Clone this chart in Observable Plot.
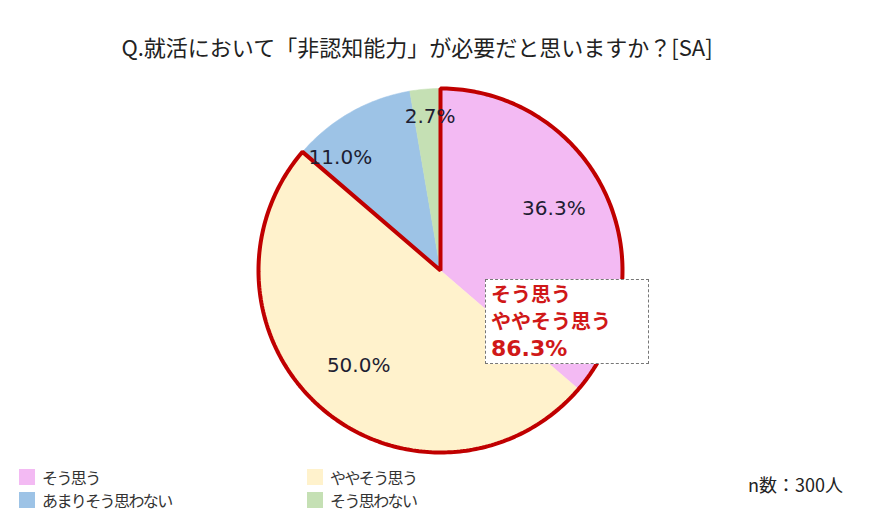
<!DOCTYPE html>
<html><head><meta charset="utf-8">
<script src="https://cdn.jsdelivr.net/npm/d3@7"></script>
<script src="https://cdn.jsdelivr.net/npm/@observablehq/plot@0.6"></script>
<style>
body{margin:0;width:870px;height:531px;background:#fff;position:relative;overflow:hidden;font-family:"Noto Sans CJK JP",sans-serif}
#chart{position:absolute;left:0;top:0}
#title{position:absolute;left:0;width:834px;top:30px;text-align:center;font-size:22px;color:#222;white-space:nowrap}
#callout{position:absolute;left:485px;top:279px;width:157px;height:83px;border:1px dashed #777;background:#fff;color:#D01818;font-weight:bold;font-size:20px;line-height:27px;padding-left:5px;box-sizing:content-box}
#callout .big{font-family:"DejaVu Sans",sans-serif;font-size:22px;line-height:29px}
.leg{position:absolute;font-size:16px;letter-spacing:-1.6px;color:#333;display:flex;align-items:center;white-space:nowrap;height:17px}
.sw{display:inline-block;flex:0 0 16px;width:16px;height:16px;margin-right:7px}
#n{position:absolute;left:748px;top:471px;font-size:18px;color:#222;white-space:nowrap}
</style></head>
<body>
<div id="title">Q.就活において「非認知能力」が必要だと思いますか？[SA]</div>
<div id="chart"></div>
<div id="callout"></div>
<div id="legend"></div>
<div id="n">n数：300人</div>
<script>
const categories = ["そう思う", "ややそう思う", "あまりそう思わない", "そう思わない"];
const values = [36.3, 50.0, 11.0, 2.7];
const colors = ["#F3BAF3", "#FFF2CC", "#9DC3E6", "#C5E0B4"];
const highlightCount = 2; // top-2 box
const highlightLabel = ["そう思う", "ややそう思う"];

// label placement config (radius fraction, angle offset in degrees)
const labelCfg = [{r:0.71,da:-4},{r:0.69,da:0},{r:0.83,da:-12},{r:0.85,da:1}];

const total = d3.sum(values);
const arcs = [];
let acc = 0;
values.forEach((v,i)=>{ const a0 = acc/total*2*Math.PI; acc += v; const a1 = acc/total*2*Math.PI; arcs.push({a0,a1,i}); });

function wedge(a0,a1){
  const pts=[{x:0,y:0}];
  const n=Math.max(4,Math.ceil((a1-a0)/(Math.PI/180)));
  for(let k=0;k<=n;k++){const a=a0+(a1-a0)*k/n; pts.push({x:Math.sin(a),y:Math.cos(a)});}
  return pts;
}

const marks = arcs.map(s => Plot.line(wedge(s.a0,s.a1), {x:"x",y:"y",fill:colors[s.i],stroke:colors[s.i],strokeWidth:0.5,curve:"linear-closed"}));
const hiEnd = arcs[highlightCount-1].a1;
marks.push(Plot.line(wedge(0,hiEnd), {x:"x",y:"y",fill:"none",stroke:"#C00000",strokeWidth:4,strokeLinejoin:"miter",curve:"linear-closed"}));

const labels = arcs.map(s => {
  const a = (s.a0+s.a1)/2 + labelCfg[s.i].da*Math.PI/180;
  const r = labelCfg[s.i].r;
  return {x:r*Math.sin(a), y:r*Math.cos(a), t:values[s.i].toFixed(1)+"%"};
});
marks.push(Plot.text(labels,{x:"x",y:"y",text:"t",fontSize:20,fill:"#1e1e32",fontFamily:"DejaVu Sans, sans-serif"}));

const chart = Plot.plot({
  width:870,height:531,margin:0,
  x:{domain:[-1,1],range:[258,622],axis:null},
  y:{domain:[-1,1],range:[452,88],axis:null},
  style:{background:"transparent",overflow:"visible"},
  marks
});
document.getElementById("chart").append(chart);

const hiSum = d3.sum(values.slice(0,highlightCount));
document.getElementById("callout").innerHTML = highlightLabel.map(d=>`<div>${d}</div>`).join("") + `<div class="big">${hiSum.toFixed(1)}%</div>`;

const legPos = [[19,468],[307,468],[19,491],[307,491]];
const legOrder = [0,1,2,3];
const leg = document.getElementById("legend");
legOrder.forEach((i,k)=>{
  const d=document.createElement("div"); d.className="leg";
  d.style.left=legPos[k][0]+"px"; d.style.top=legPos[k][1]+"px";
  d.innerHTML=`<span class="sw" style="background:${colors[i]}"></span>${categories[i]}`;
  leg.append(d);
});
</script>
</body></html>
